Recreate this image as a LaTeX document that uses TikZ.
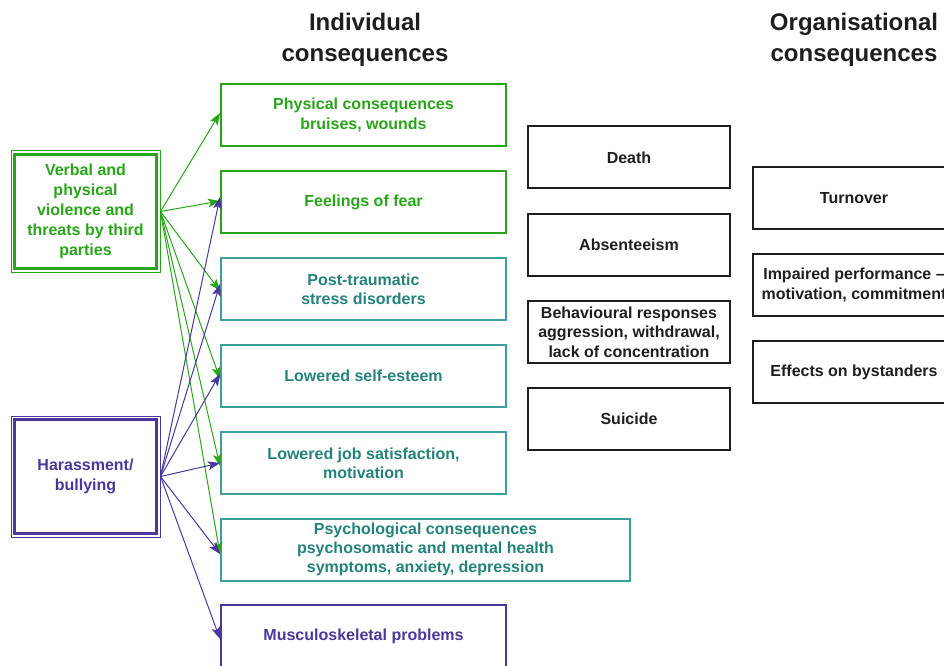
\documentclass[tikz,border=0pt]{standalone}
\usepackage{fontspec}
\setmainfont{Liberation Sans}
\usetikzlibrary{arrows.meta,calc}

\definecolor{vgreen}{RGB}{40,165,25}
\definecolor{bteal}{RGB}{60,160,155}
\definecolor{tteal}{RGB}{35,130,122}
\definecolor{hpurple}{RGB}{75,55,155}
\definecolor{dtext}{RGB}{30,30,30}

\tikzset{every picture/.style={line width=0.75pt},
  cbox/.style={draw,line width=1.5pt,inner sep=0.75pt,align=center,
    font=\fontsize{12}{14.5}\selectfont\bfseries,minimum height=46.5pt},
  ibox/.style={cbox,minimum width=213.75pt},
  obox/.style={cbox,minimum width=151.5pt,draw=dtext,text=dtext},
  srcbox/.style={draw,line width=0.75pt,inner sep=0.75pt,align=center,
    font=\fontsize{12}{15}\selectfont\bfseries,minimum width=111.75pt,minimum height=90.75pt},
  head/.style={align=center,text=dtext,font=\fontsize{18}{23.25}\selectfont\bfseries},
  garrow/.style={vgreen,-{Stealth[length=9pt,width=6.5pt,inset=2pt]}},
  parrow/.style={hpurple,-{Stealth[length=9pt,width=6.5pt,inset=2pt]}}
}

\begin{document}
\begin{tikzpicture}[x=0.75pt,y=0.75pt,yscale=-1,xscale=1]
\useasboundingbox (0,0) rectangle (944,666);

% Text Node
\node (hind) at (365,39.5) [head] {Individual\\consequences};
% Text Node
\node (horg) at (854,39.5) [head] {Organisational\\consequences};

%Shape: Double box [id:verbal]
\node (verbal) at (85.5,211.5) [srcbox,draw=vgreen,text=vgreen] {Verbal and\\physical\\violence and\\threats by third\\parties};
\draw [vgreen,line width=2.6pt] ($(verbal.north west)+(4,4)$) rectangle ($(verbal.south east)+(-4,-4)$) ;
%Shape: Double box [id:harass]
\node (harass) at (85.5,476.5) [srcbox,draw=hpurple,text=hpurple] {Harassment/\\bullying};
\draw [hpurple,line width=2.6pt] ($(harass.north west)+(4,4)$) rectangle ($(harass.south east)+(-4,-4)$) ;

%Individual consequences
\node (phys) at (363.5,115) [ibox,draw=vgreen,text=vgreen] {Physical consequences\\bruises, wounds};
\node (fear) at (363.5,202) [ibox,draw=vgreen,text=vgreen] {Feelings of fear};
\node (ptsd) at (363.5,289) [ibox,draw=bteal,text=tteal] {Post-traumatic\\stress disorders};
\node (esteem) at (363.5,376) [ibox,draw=bteal,text=tteal] {Lowered self-esteem};
\node (job) at (363.5,463) [ibox,draw=bteal,text=tteal] {Lowered job satisfaction,\\motivation};
\node (psych) at (425.5,549.5) [cbox,minimum width=306.75pt,draw=bteal,text=tteal] {Psychological consequences\\psychosomatic and mental health\\symptoms, anxiety, depression};
\node (musc) at (363.5,636) [ibox,draw=hpurple,text=hpurple] {Musculoskeletal problems};

%Middle column
\node (death) at (629,157.5) [obox] {Death};
\node (absent) at (629,245) [obox] {Absenteeism};
\node (behav) at (629,332) [obox] {Behavioural responses\\aggression, withdrawal,\\lack of concentration};
\node (suicide) at (629,419) [obox] {Suicide};

%Organisational consequences
\node (turn) at (854,198) [obox] {Turnover};
\node (perf) at (854,285) [obox] {Impaired performance --\\motivation, commitment};
\node (bystand) at (854,372) [obox] {Effects on bystanders};

%Arrows
\foreach \t/\s in {phys/-1.5,fear/-0.75,ptsd/1.5,esteem/2.25,job/2.25,psych/3.4}
  \draw [garrow] (verbal.east) -- ([yshift=\s pt]\t.west) ;
\foreach \t/\s in {fear/-3.75,ptsd/-3.75,esteem/-1.5,job/0,psych/3.4,musc/2.25}
  \draw [parrow] (harass.east) -- ([yshift=\s pt]\t.west) ;

\end{tikzpicture}
\end{document}
